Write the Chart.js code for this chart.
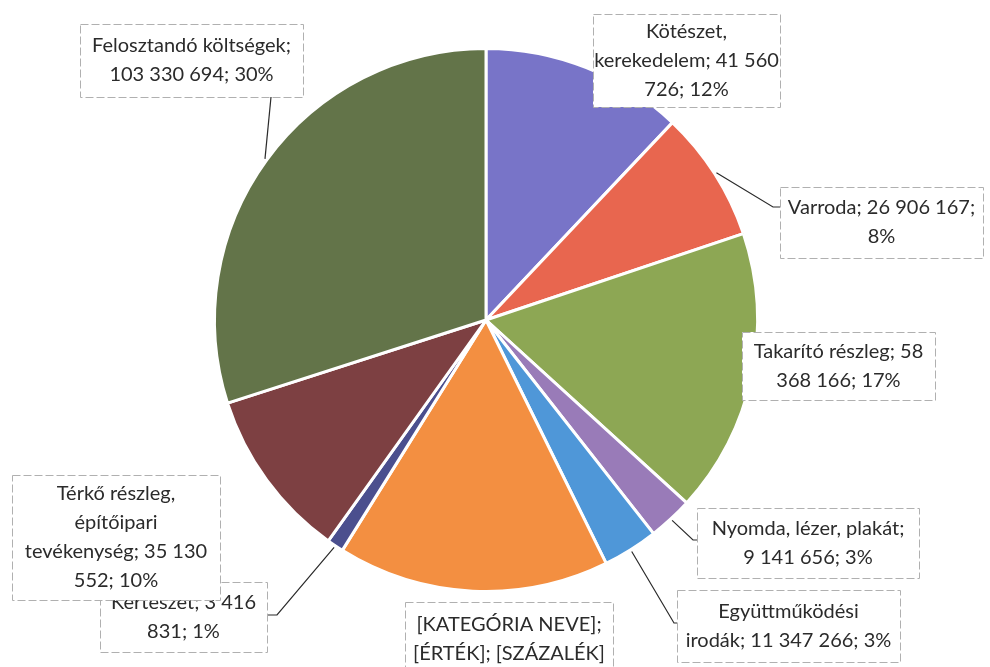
<!DOCTYPE html>
<html>
<head>
<meta charset="utf-8">
<script src="https://cdn.jsdelivr.net/npm/chart.js@4/dist/chart.umd.min.js"></script>
<style>
  body { margin: 0; background: #fff; }
  canvas { display: block; }
</style>
</head>
<body>
<canvas id="myPieChart" width="990" height="667"></canvas>
<script>
// kategóriák, értékek (Ft)
const categories = [
  'Kötészet, kerekedelem',
  'Varroda',
  'Takarító részleg',
  'Nyomda, lézer, plakát',
  'Együttműködési irodák',
  '[KATEGÓRIA NEVE]',
  'Kertészet',
  'Térkő részleg, építőipari tevékenység',
  'Felosztandó költségek'
]
const values = [41560726, 26906167, 58368166, 9141656, 11347266, 55800000, 3416831, 35130552, 103330694]
const colors = ['#7874c8', '#e8664f', '#8da754', '#997bb8', '#4f97d8', '#f38f41', '#4b4f8e', '#7d4042', '#637449']

// felirat dobozok (hol álljon, hány szó soronként, vezetővonal)
const boxes = [
  {x: 593, y: 14, w: 187, h: 93, lines: [1, 3, 2]},
  {x: 780, y: 187, w: 203, h: 71, lines: [4, 1], leader: [[773, 207], [780, 207]]},
  {x: 742, y: 332, w: 193, h: 68, lines: [3, 3]},
  {x: 697, y: 508, w: 222, h: 70, lines: [3, 4], leader: [[693, 540], [697, 540]]},
  {x: 677, y: 590, w: 223, h: 72, lines: [1, 5], leader: [[674, 623], [677, 623]]},
  {x: 405, y: 602, w: 208, h: 75, lines: [2, 2], placeholder: '[KATEGÓRIA NEVE]; [ÉRTÉK]; [SZÁZALÉK]'},
  {x: 100, y: 582, w: 167, h: 70, lines: [3, 2], leader: [[277, 615], [267, 615]]},
  {x: 12, y: 475, w: 208, h: 125, lines: [2, 1, 3, 2]},
  {x: 80, y: 24, w: 223, h: 73, lines: [2, 4], leader: [[271, 97]]}
]

function fmt(n){
  return String(n).replace(/\B(?=(\d{3})+(?!\d))/g, ' ')
}

const total = values.reduce((a, b) => a + b, 0)

const calloutPlugin = {
  id: 'callouts',
  afterDraw(chart){
    const ctx = chart.ctx
    const meta = chart.getDatasetMeta(0)
    ctx.save()
    boxes.forEach((b, i) => {
      const arc = meta.data[i]
      // vezetővonal
      if(b.leader){
        const mid = (arc.startAngle + arc.endAngle) / 2
        const r = arc.outerRadius + 2
        ctx.beginPath()
        ctx.moveTo(arc.x + Math.cos(mid) * r, arc.y + Math.sin(mid) * r)
        for(const p of b.leader) ctx.lineTo(p[0], p[1])
        ctx.strokeStyle = '#2a2a2a'
        ctx.lineWidth = 1.2
        ctx.setLineDash([])
        ctx.stroke()
      }
      ctx.fillStyle = '#fff'
      ctx.fillRect(b.x, b.y, b.w, b.h)
      ctx.strokeStyle = '#b0b0b0'
      ctx.lineWidth = 1
      ctx.setLineDash([8, 3])
      ctx.strokeRect(b.x + 0.5, b.y + 0.5, b.w, b.h)
      ctx.setLineDash([])

      let text
      if(b.placeholder) text = b.placeholder
      else text = categories[i] + '; ' + fmt(values[i]) + '; ' + Math.round(values[i] / total * 100) + '%'
      const words = text.split(' ')
      const rows = []
      let k = 0
      for(const n of b.lines){
        rows.push(words.slice(k, k + n).join(' '))
        k += n
      }
      const lh = 29
      ctx.font = '20px Lato'
      ctx.fillStyle = '#2b2b2b'
      ctx.textAlign = 'center'
      ctx.textBaseline = 'middle'
      const cx = b.x + b.w / 2
      const cy = b.y + b.h / 2 - (rows.length - 1) * lh / 2
      rows.forEach((row, j) => ctx.fillText(row, cx, cy + j * lh))
    })
    ctx.restore()
  }
}

const ctx = document.getElementById('myPieChart').getContext('2d')
const myPieChart = new Chart(ctx, {
  type: 'pie',
  data: {
    labels: categories,
    datasets: [{
      data: values,
      backgroundColor: colors,
      borderColor: '#ffffff',
      borderWidth: 3
    }]
  },
  options: {
    responsive: false,
    animation: false,
    layout: {padding: {left: 213, right: 231, top: 47, bottom: 74}},
    plugins: {
      legend: {display: false},
      tooltip: {enabled: false}
    }
  },
  plugins: [calloutPlugin]
})
</script>
</body>
</html>
